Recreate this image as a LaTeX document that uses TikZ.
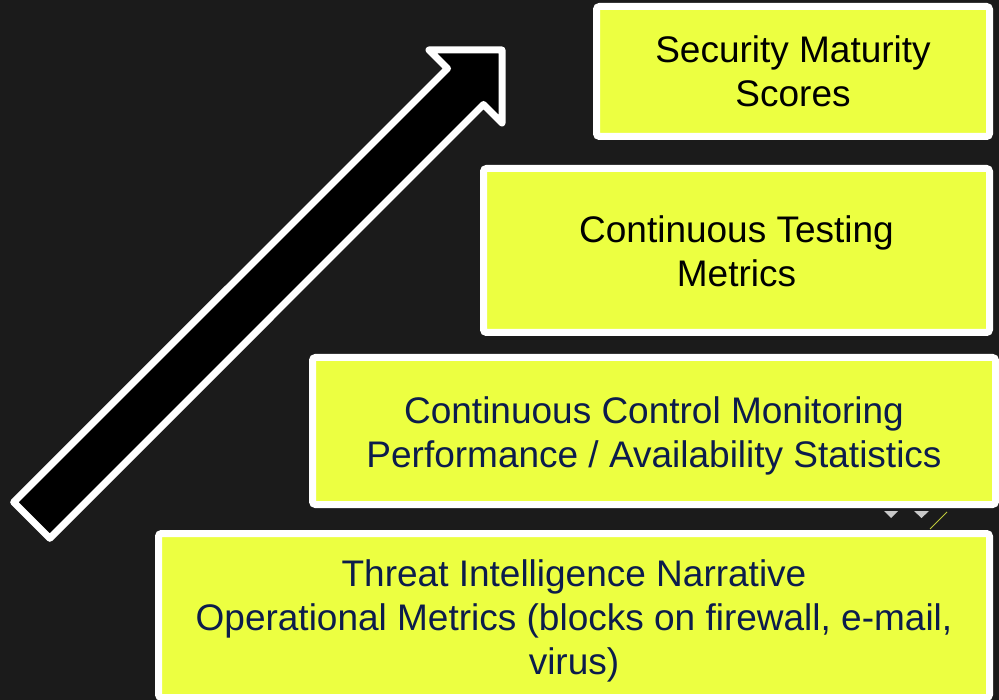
\documentclass[tikz,border=0pt]{standalone}
\usepackage{fontspec}
\setmainfont{Liberation Sans}
\usetikzlibrary{shadows}
\definecolor{bgdark}{RGB}{27,27,27}
\definecolor{boxyellow}{RGB}{236,255,65}
\definecolor{navytext}{RGB}{12,28,76}
\definecolor{artgray}{RGB}{200,200,200}
\definecolor{artline}{RGB}{190,200,60}
\tikzset{
  levelbox/.style={draw=white, line width=7pt, fill=boxyellow, rounded corners=3pt,
    inner sep=0pt, outer sep=0pt,
    drop shadow={opacity=0.45, shadow xshift=1.5pt, shadow yshift=-1.5pt}},
  boxtext/.style={inner sep=0pt, outer sep=0pt, align=center,
    font=\fontsize{37}{44}\selectfont},
  bigarrow/.style={draw=white, fill=black, line width=7pt, line join=round}
}
\begin{document}
\begin{tikzpicture}[x=1pt,y=-1pt]
\useasboundingbox (0,0) rectangle (999,700);
\fill[bgdark] (0,0) rectangle (999,700);

% small artifacts between the lower boxes
\fill[artgray] (884,511) -- (898,511) -- (891,518) -- cycle;
\fill[artgray] (914,511) -- (929,511) -- (921.5,518) -- cycle;
\draw[artline, line width=0.8pt] (930,529) -- (947,512);

% rising arrow
\coordinate (tip) at (502,50);
\coordinate (barbA) at (429,50);
\coordinate (notchA) at (447.5,68.5);
\coordinate (tailA) at (13.7,502.2);
\coordinate (tailB) at (49.8,538.3);
\coordinate (notchB) at (483.5,104.5);
\coordinate (barbB) at (502,123);
\draw[bigarrow] (tip) -- (barbA) -- (notchA) -- (tailA) -- (tailB) -- (notchB) -- (barbB) -- cycle;

% boxes
\node[levelbox, minimum width=393pt, minimum height=130pt] (b1) at (793,71.5) {};
\node[levelbox, minimum width=506pt, minimum height=164pt] (b2) at (736.5,250.5) {};
\node[levelbox, minimum width=683pt, minimum height=147pt] (b3) at (654,431) {};
\node[levelbox, minimum width=831pt, minimum height=164pt] (b4) at (574,615.5) {};

% texts
\node[boxtext, text=black] (t1) at (b1.center) {Security Maturity\\Scores};
\node[boxtext, text=black] (t2) at ([yshift=-0.5pt]b2.center) {Continuous Testing\\Metrics};
\node[boxtext, text=navytext] (t3) at ([yshift=-5pt]b3.center)
  {Continuous Control Monitoring\\Performance / Availability Statistics};
\node[boxtext, text=navytext] (t4) at ([yshift=-5pt]b4.center)
  {Threat Intelligence Narrative\\Operational Metrics (blocks on firewall, e-mail,\\virus)};
\end{tikzpicture}
\end{document}
